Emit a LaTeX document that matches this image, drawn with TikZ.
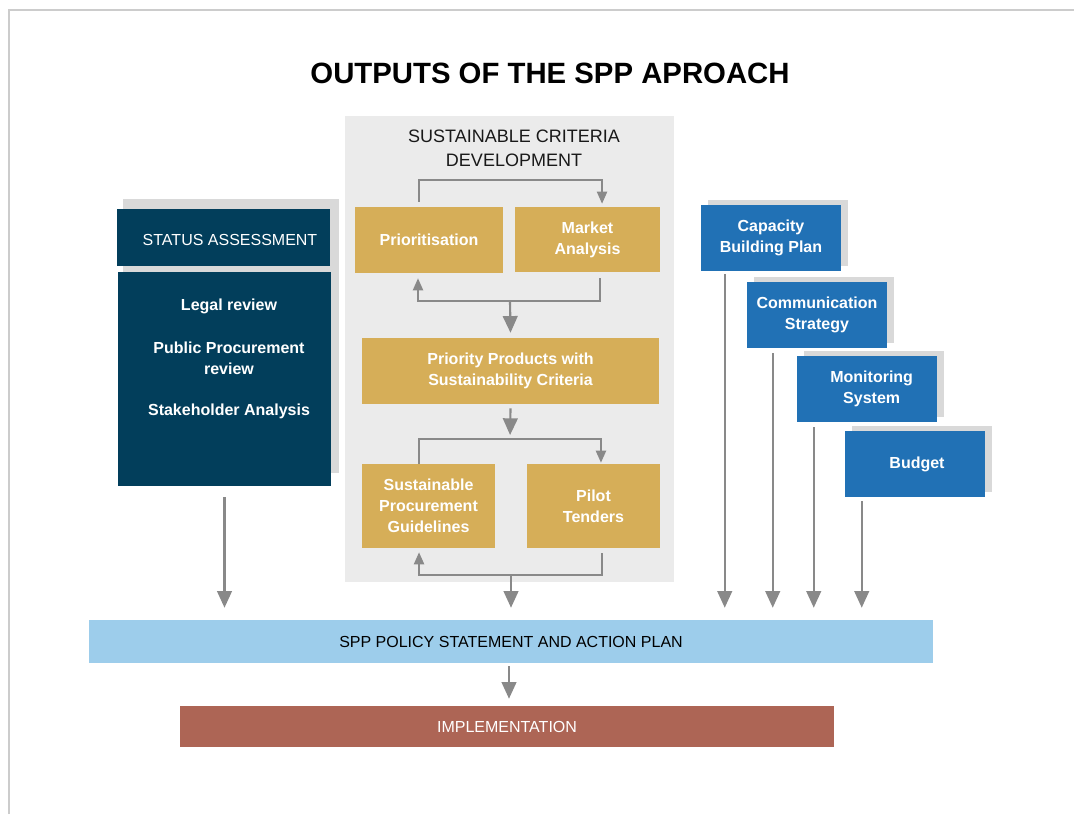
\documentclass[tikz,border=0pt]{standalone}
\usepackage{fontspec}
\setmainfont{Liberation Sans}
\usetikzlibrary{arrows.meta,shadows}

\definecolor{framegray}{HTML}{CCCCCC}
\definecolor{panelgray}{HTML}{EBEBEB}
\definecolor{shadowgray}{HTML}{D9D9D9}
\definecolor{linegray}{HTML}{898989}
\definecolor{goldbox}{HTML}{D6AE58}
\definecolor{navybox}{HTML}{023E5B}
\definecolor{bluebox}{HTML}{2171B5}
\definecolor{policyblue}{HTML}{9DCDEB}
\definecolor{implred}{HTML}{AD6555}

\newcommand{\boxfont}{\fontsize{12}{15.75}\selectfont\bfseries}

\begin{document}
\begin{tikzpicture}[x=0.75pt, y=-0.75pt,
    goldstep/.style={fill=goldbox, text=white, font=\boxfont, align=center, inner sep=0pt},
    bluestep/.style={fill=bluebox, text=white, font=\boxfont, align=center, inner sep=0pt,
        minimum width=105pt, minimum height=49.5pt,
        drop shadow={shadow xshift=5.25pt, shadow yshift=4.1pt, fill=shadowgray, opacity=1}},
    navytext/.style={text=white, font=\boxfont, align=center},
    bar/.style={inner sep=0pt, font=\fontsize{12}{14}\selectfont},
    flow/.style={draw=linegray, line width=1.6pt, -{Triangle[width=11pt,length=12.5pt]}},
    loop/.style={draw=linegray, line width=1.5pt, -{Triangle[width=7.5pt,length=9pt]}}]
\useasboundingbox (0,0) rectangle (1074,814);

% Frame and title
\draw[framegray, line width=1.5pt] (9,814) -- (9,10) -- (1074,10);
\node at (550,73) [font=\bfseries\fontsize{22}{26}\selectfont] (title) {OUTPUTS OF THE SPP APROACH};

% Status assessment
\fill[shadowgray] (123,199) rectangle (339,473);
\node at (223.5,237.5) [fill=navybox, minimum width=159.75pt, minimum height=42.75pt, inner sep=0pt] (head) {};
\node at (224.5,379) [fill=navybox, minimum width=159.75pt, minimum height=160.5pt, inner sep=0pt] (body) {};
\node at (230,240) [text=white, font=\fontsize{12}{14}\selectfont] (headtext) {STATUS ASSESSMENT};
\node at (229,306) [navytext] (legal) {Legal review};
\node at (229,358.5) [navytext] (ppr) {Public Procurement\\review};
\node at (229,411) [navytext] (stake) {Stakeholder Analysis};

% Sustainable criteria development
\node at (509.5,349) [fill=panelgray, minimum width=246.75pt, minimum height=349.5pt, inner sep=0pt] (panel) {};
\node at (514,148) [font=\fontsize{13.5}{18}\selectfont, text=black!90, align=center] (paneltitle) {SUSTAINABLE CRITERIA\\DEVELOPMENT};
\node at (429,240) [goldstep, minimum width=111pt, minimum height=49.5pt] (prio) {Prioritisation};
\node at (587.5,239.5) [goldstep, minimum width=108.75pt, minimum height=48.75pt] (market) {Market\\Analysis};
\node at (510.5,371) [goldstep, minimum width=222.75pt, minimum height=49.5pt] (prod) {Priority Products with\\Sustainability Criteria};
\node at (428.5,506) [goldstep, minimum width=99.75pt, minimum height=63pt] (guide) {Sustainable\\Procurement\\Guidelines};
\node at (593.5,506) [goldstep, minimum width=99.75pt, minimum height=63pt] (pilot) {Pilot\\Tenders};

% Supporting outputs
\node at (771,238) [bluestep] (cap) {Capacity\\Building Plan};
\node at (817,315) [bluestep] (comm) {Communication\\Strategy};
\node at (867,389) [bluestep] (mon) {\hspace*{7pt}Monitoring\\\hspace*{7pt}System};
\node at (915,464) [bluestep] (budget) {\hspace*{3pt}Budget};

% Policy and implementation
\node at (511,641.5) [bar, fill=policyblue, minimum width=633pt, minimum height=32.25pt] (policy) {SPP POLICY STATEMENT AND ACTION PLAN};
\node at (507,726.5) [bar, fill=implred, text=white, minimum width=490.5pt, minimum height=30.75pt] (impl) {IMPLEMENTATION};

% Arrows
\coordinate (joinA) at (510,301);
\coordinate (joinB) at (510,439);
\coordinate (joinC) at (511,575);
\draw[loop] ([xshift=-7.5pt,yshift=3.75pt]prio.north) -- ++(0,-22) -| ([xshift=10.9pt,yshift=2.25pt]market.north);
\draw[loop] ([xshift=9.4pt,yshift=-4.5pt]market.south) -- ++(0,23) -| ([xshift=-8.25pt,yshift=-3.75pt]prio.south);
\draw[flow] (joinA) -- ([yshift=3.75pt]prod.north);
\draw[flow, shorten >=3pt] ([yshift=-3pt]prod.south) -- (joinB);
\draw[loop] ([xshift=-7.1pt]guide.north) -- ++(0,-25) -| ([xshift=5.6pt,yshift=0.75pt]pilot.north);
\draw[loop] ([xshift=6.4pt,yshift=-3.75pt]pilot.south) -- ++(0,22) -| ([xshift=-7.1pt,yshift=-3pt]guide.south);
\draw[flow, shorten >=9pt] (joinC) -- (joinC |- policy.north);

\coordinate (bodyout) at ([yshift=-8.25pt]body.south);
\coordinate (capout) at ([xshift=18pt,yshift=-2.25pt]cap.south west);
\coordinate (commout) at ([xshift=19.5pt,yshift=-3.75pt]comm.south west);
\coordinate (monout) at ([xshift=12.75pt,yshift=-3.75pt]mon.south west);
\coordinate (budgetout) at ([xshift=12.75pt,yshift=-3pt]budget.south west);
\coordinate (policyout) at ([xshift=-1.5pt,yshift=-2.25pt]policy.south);
\foreach \src in {bodyout,capout,commout,monout,budgetout}
    \draw[flow, shorten >=9pt] (\src) -- (\src |- policy.north);

\draw[flow, shorten >=5.25pt] (policyout) -- (policyout |- impl.north);
\end{tikzpicture}
\end{document}
